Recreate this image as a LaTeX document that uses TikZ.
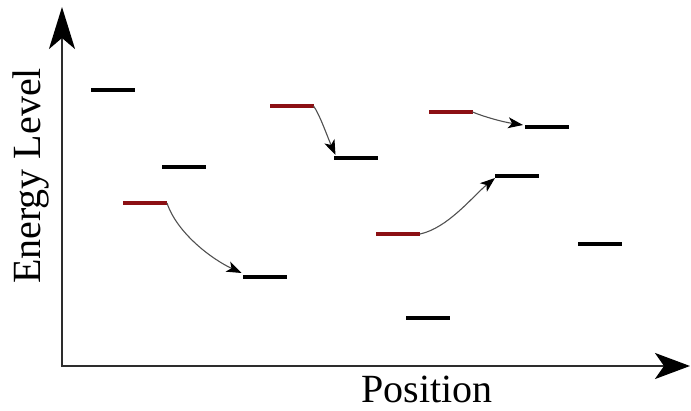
\documentclass[tikz,border=0pt]{standalone}
\usepackage{fontspec}
\setmainfont{Liberation Serif}
\usetikzlibrary{arrows.meta,calc}
\definecolor{lvred}{RGB}{140,16,20}
\definecolor{axisgray}{RGB}{45,45,45}
\definecolor{arrgray}{RGB}{80,80,80}
\tikzset{
  level/.style={rectangle, fill=black, minimum width=44pt, minimum height=4.6pt, inner sep=0pt, outer sep=0pt},
  redlevel/.style={level, fill=lvred},
  axis/.style={draw=axisgray, line width=2.4pt},
  trans/.style={draw=arrgray, line width=1.1pt, -{Stealth[length=15pt,width=11pt,inset=4pt,color=black]}},
  lbl/.style={font=\fontsize{40}{44}\selectfont, inner sep=0pt}
}
\begin{document}
\begin{tikzpicture}[x=1pt,y=-1pt]
\useasboundingbox (0,0) rectangle (691,411);
% axes
\coordinate (O) at (62,366);
\coordinate (ytip) at (62,7);
\coordinate (xtip) at (690,366);
\draw[axis, -{Stealth[length=42pt,width=26pt,inset=11pt,color=black]}] ($(O)+(0,1.2)$) -- (ytip);
\draw[axis, -{Stealth[length=35pt,width=26pt,inset=9pt,color=black]}] ($(O)+(-1.2,0)$) -- (xtip);
% labels
\node[lbl, rotate=90] (ylab) at (31,176) {Energy Level};
\node[lbl] (xlab) at (427,389) {Position};
% black levels
\node[level] (b1) at (112.5,90) {};
\node[level] (b2) at (184,167) {};
\node[level] (b3) at (264.5,277) {};
\node[level] (b4) at (355.5,158) {};
\node[level] (b5) at (428,318) {};
\node[level] (b6) at (517,176) {};
\node[level] (b7) at (547,127) {};
\node[level] (b8) at (600,244) {};
% red levels
\node[redlevel] (r1) at (145,203) {};
\node[redlevel] (r2) at (291.5,106) {};
\node[redlevel] (r3) at (398,234) {};
\node[redlevel] (r4) at (450.5,112) {};
% transitions
\draw[trans] (r1.east) .. controls +(10,30) and +(-30,-14) .. ($(b3.west)+(-1,-4)$);
\draw[trans] (r2.east) .. controls +(6,8) and +(-8,-18) .. ($(b4.west)+(2,-3)$);
\draw[trans] (r3.east) .. controls +(28,-6) and +(-22,18) .. ($(b6.west)+(0,2)$);
\draw[trans] (r4.east) .. controls +(12,5) and +(-20,-3) .. ($(b7.west)+(-2,-2)$);
\end{tikzpicture}
\end{document}
